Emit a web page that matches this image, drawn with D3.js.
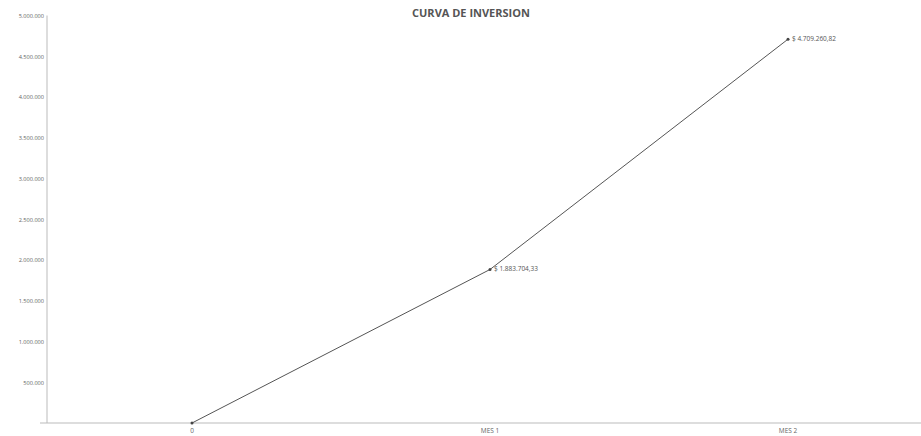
<!DOCTYPE html>
<html>
<head>
<meta charset="utf-8">
<script src="https://cdn.jsdelivr.net/npm/d3@7"></script>
<style>
  body { margin: 0; background: #fff; }
  svg text { font-family: "Open Sans", "DejaVu Sans", sans-serif; }
</style>
</head>
<body>
<svg id="chart" width="921" height="436"></svg>
<script>
const meses = ["0", "MES 1", "MES 2"];
const inversion = [0, 1883704.33, 4709260.82];
const etiquetas = ["", "$ 1.883.704,33", "$ 4.709.260,82"];
const yTicks = [500000, 1000000, 1500000, 2000000, 2500000, 3000000, 3500000, 4000000, 4500000, 5000000];

const width = 921, height = 436;
const svg = d3.select("#chart");

// the band for MES 2 runs past the right edge of the picture (cropped scan)
const x = d3.scaleBand().domain(meses).range([43, 937]);
const cx = d => x(d) + x.bandwidth() / 2;
const y = d3.scaleLinear().domain([0, 5000000]).range([423, 15.5]);

const fmt = d3.formatLocale({ decimal: ",", thousands: ".", grouping: [3], currency: ["$", ""] }).format(",.0f");

// title
svg.append("text")
    .attr("x", 471).attr("y", 17)
    .attr("text-anchor", "middle")
    .attr("font-size", 11).attr("font-weight", "bold")
    .attr("fill", "#555")
    .text("CURVA DE INVERSION");

// y axis
const yAxis = svg.append("g")
    .attr("transform", "translate(47,0)")
    .call(d3.axisLeft(y).tickValues(yTicks).tickSize(0).tickPadding(3).tickFormat(fmt));
yAxis.select(".domain").attr("stroke", "#bbb").attr("d", `M0,${y(5000000)}V${y(0)}`);
yAxis.selectAll("text").attr("font-size", 5.6).attr("fill", "#666");

// x axis
const xAxis = svg.append("g")
    .attr("transform", `translate(0,${y(0)})`)
    .call(d3.axisBottom(x).tickSize(0).tickPadding(5));
xAxis.select(".domain").attr("stroke", "#bbb").attr("d", "M40,0H921");
xAxis.selectAll("text").attr("font-size", 6.5).attr("fill", "#666");

// line
const line = d3.line()
    .x((d, i) => cx(meses[i]))
    .y(d => y(d));

svg.append("path")
    .datum(inversion)
    .attr("fill", "none")
    .attr("stroke", "#555")
    .attr("stroke-width", 1)
    .attr("d", line);

svg.selectAll(".pt")
    .data(inversion)
    .join("circle")
    .attr("class", "pt")
    .attr("cx", (d, i) => cx(meses[i]))
    .attr("cy", d => y(d))
    .attr("r", 1.5)
    .attr("fill", "#444");

svg.selectAll(".lbl")
    .data(inversion)
    .join("text")
    .attr("class", "lbl")
    .attr("x", (d, i) => cx(meses[i]) + 4)
    .attr("y", d => y(d) + 2)
    .attr("font-size", 6.5)
    .attr("fill", "#555")
    .text((d, i) => etiquetas[i]);
</script>
</body>
</html>
